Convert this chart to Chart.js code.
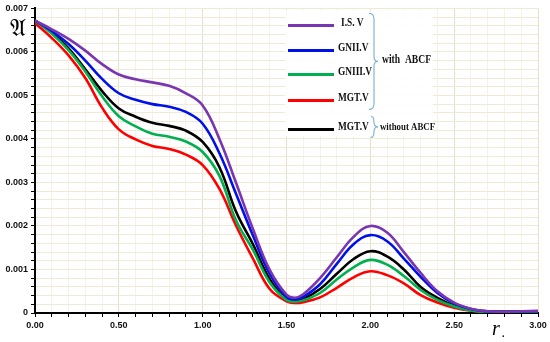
<!DOCTYPE html>
<html>
<head>
<meta charset="utf-8">
<script src="https://cdn.jsdelivr.net/npm/chart.js@4.4.1/dist/chart.umd.min.js"></script>
<style>
  html, body { margin: 0; padding: 0; background: #fff; }
  #wrap { width: 550px; height: 342px; }
</style>
</head>
<body>
<div id="wrap"><canvas id="myChart"></canvas></div>
<script>
// r values
const xValues = [0, 0.1, 0.2, 0.3, 0.4, 0.5, 0.6, 0.7, 0.8, 0.9, 1.0, 1.1, 1.2, 1.3, 1.4, 1.5, 1.55,
  1.6, 1.7, 1.8, 1.9, 2.0, 2.1, 2.2, 2.3, 2.4, 2.5, 2.6, 2.7, 2.8, 2.9, 3.0];

// with ABCF
const isv = [0.00672, 0.00652, 0.0063, 0.00603, 0.00572, 0.00548, 0.00537, 0.0053, 0.00522, 0.00505, 0.00477,
  0.0040, 0.00298, 0.00193, 0.00099, 0.00042, 0.00035, 0.00043, 0.0008, 0.00128, 0.00175, 0.0020, 0.00185,
  0.0014, 0.00092, 0.0005, 0.00024, 0.0001, 0.00004, 0.00003, 0.00004, 0.00005];
const gnii = [0.00672, 0.00648, 0.00618, 0.0058, 0.00538, 0.00505, 0.0049, 0.0048, 0.00474, 0.00462, 0.00435,
  0.00367, 0.00273, 0.00178, 0.0009, 0.00037, 0.00031, 0.00037, 0.00066, 0.00113, 0.00158, 0.00179, 0.00165,
  0.00125, 0.00083, 0.00046, 0.00022, 0.00009, 0.00004, 0.00003, 0.00004, 0.00004];
const gniii = [0.00672, 0.00642, 0.00604, 0.00555, 0.00498, 0.00452, 0.00429, 0.00412, 0.00405, 0.00394, 0.0037,
  0.00315, 0.00212, 0.00145, 0.0007, 0.0003, 0.00026, 0.00029, 0.00046, 0.00077, 0.00105, 0.00122, 0.00111,
  0.00085, 0.00053, 0.0003, 0.00015, 0.00006, 0.00002, 0.00002, 0.00002, 0.00002];
const mgt = [0.00666, 0.00632, 0.00592, 0.0054, 0.00472, 0.00422, 0.00399, 0.00384, 0.00377, 0.00364, 0.0034,
  0.00285, 0.002, 0.00125, 0.00055, 0.00027, 0.00023, 0.00025, 0.00036, 0.00058, 0.00082, 0.00096, 0.00087,
  0.00068, 0.00041, 0.00024, 0.00012, 0.00005, 0.00002, 0.00002, 0.00002, 0.00002];
// without ABCF
const mgtWithout = [0.00672, 0.00645, 0.00608, 0.0056, 0.0051, 0.0047, 0.00451, 0.00437, 0.0043, 0.00419, 0.00393,
  0.00335, 0.00232, 0.00158, 0.00078, 0.00032, 0.00028, 0.00032, 0.00055, 0.0009, 0.00124, 0.00142, 0.0013,
  0.001, 0.0006, 0.00035, 0.00017, 0.00007, 0.00003, 0.00003, 0.00003, 0.00003];

const seriesNames = ['I.S. V', 'GNII.V', 'GNIII.V', 'MGT.V', 'MGT.V'];
const seriesColors = ['#7a35b0', '#0010e8', '#00b050', '#ff0000', '#000000'];
const seriesData = [isv, gnii, gniii, mgt, mgtWithout];

const toPoints = arr => arr.map((v, i) => ({ x: xValues[i], y: v }));

// legend box with braces, drawn on top of the plot
const legendBox = {
  id: 'legendBox',
  afterDraw(chart) {
    const c = chart.ctx;
    const a = chart.chartArea;
    const bx = a.left + 250, by = a.top + 2, bw = 148, bh = 126;
    c.save();
    c.fillStyle = 'rgba(255,255,255,0.9)';
    c.fillRect(bx, by, bw, bh);
    const rows = [15, 40, 64, 90, 119];
    rows.forEach((ry, i) => {
      c.strokeStyle = seriesColors[i];
      c.lineWidth = 3;
      c.beginPath();
      c.moveTo(bx + 3, by + ry);
      c.lineTo(bx + 49, by + ry);
      c.stroke();
      c.save();
      c.translate(bx + (i === 0 ? 56 : 53), by + ry - 2);
      c.scale(0.78, 1);
      c.fillStyle = '#111';
      c.font = 'bold 12px "Liberation Serif"';
      c.textBaseline = 'middle';
      c.fillText(seriesNames[i], 0, 0);
      c.restore();
    });
    // braces
    const brace = (x, y1, y2, w) => {
      const ym = (y1 + y2) / 2;
      c.beginPath();
      c.moveTo(x, y1);
      c.quadraticCurveTo(x + w, y1, x + w, y1 + 6);
      c.lineTo(x + w, ym - 5);
      c.quadraticCurveTo(x + w, ym, x + w + 4, ym);
      c.quadraticCurveTo(x + w, ym, x + w, ym + 5);
      c.lineTo(x + w, y2 - 6);
      c.quadraticCurveTo(x + w, y2, x, y2);
      c.stroke();
      return ym;
    };
    c.strokeStyle = '#7fb6d6';
    c.lineWidth = 1.2;
    const m1 = brace(bx + 84, by + 3, by + 99, 5);
    const m2 = brace(bx + 86, by + 106, by + 127, 3);
    c.fillStyle = '#111';
    c.textBaseline = 'middle';
    c.save();
    c.translate(bx + 97, m1 - 1);
    c.scale(0.8, 1);
    c.font = 'bold 12px "Liberation Serif"';
    c.fillText('with  ABCF', 0, 0);
    c.restore();
    c.save();
    c.translate(bx + 95, m2);
    c.scale(0.8, 1);
    c.font = 'bold 11px "Liberation Serif"';
    c.fillText('without ABCF', 0, 0);
    c.restore();
    // axis titles
    c.fillStyle = '#000';
    c.font = '24px "DejaVu Serif", "Noto Sans", serif';
    c.textBaseline = 'alphabetic';
    c.fillText('\u{1D504}', 10, 36);
    c.font = 'italic 20px "Liberation Serif"';
    c.fillText('r', a.left + 457, 335);
    c.font = 'bold 10px "Liberation Serif"';
    c.fillText('.', a.left + 467, 337);
    c.restore();
  }
};

const ctx = document.getElementById('myChart');

new Chart(ctx, {
  type: 'line',
  data: {
    datasets: seriesData.map((d, i) => ({
      label: seriesNames[i],
      data: toPoints(d),
      borderColor: seriesColors[i],
      borderWidth: 2.6,
      pointRadius: 0,
      tension: 0.4,
      fill: false
    }))
  },
  options: {
    responsive: true,
    maintainAspectRatio: false,
    animation: false,
    layout: { padding: { top: 8, right: 12, left: 0, bottom: 0 } },
    plugins: {
      legend: { display: false },
      tooltip: { enabled: false }
    },
    scales: {
      x: {
        type: 'linear',
        min: 0,
        max: 3,
        afterFit: s => { s.height = 29; },
        border: { color: '#000', width: 2 },
        grid: {
          color: c => (Math.abs(c.tick.value * 2 - Math.round(c.tick.value * 2)) < 1e-6 ? '#e6e1c8' : '#f5f2e6'),
          tickColor: '#000',
          tickLength: 4,
          lineWidth: 1
        },
        ticks: {
          stepSize: 0.1,
          autoSkip: false,
          maxRotation: 0,
          padding: 3,
          color: '#111',
          font: { family: 'Liberation Sans', weight: 'bold', size: 9 },
          callback: v => (Math.abs(v * 2 - Math.round(v * 2)) < 1e-6 ? Number(v).toFixed(2) : '')
        }
      },
      y: {
        min: 0,
        max: 0.007,
        afterFit: s => { s.width = 35; },
        border: { color: '#000', width: 2 },
        grid: {
          color: '#efead8',
          tickColor: '#000',
          tickLength: 4,
          lineWidth: 1
        },
        ticks: {
          stepSize: 0.0002,
          autoSkip: false,
          padding: 3,
          color: '#111',
          font: { family: 'Liberation Sans', weight: 'bold', size: 9 },
          callback: v => {
            const k = v * 1000;
            if (Math.abs(k - Math.round(k)) > 1e-6) return '';
            return Math.round(k) === 0 ? '0' : (Math.round(k) / 1000).toFixed(3);
          }
        }
      }
    }
  },
  plugins: [legendBox]
});
</script>
</body>
</html>
